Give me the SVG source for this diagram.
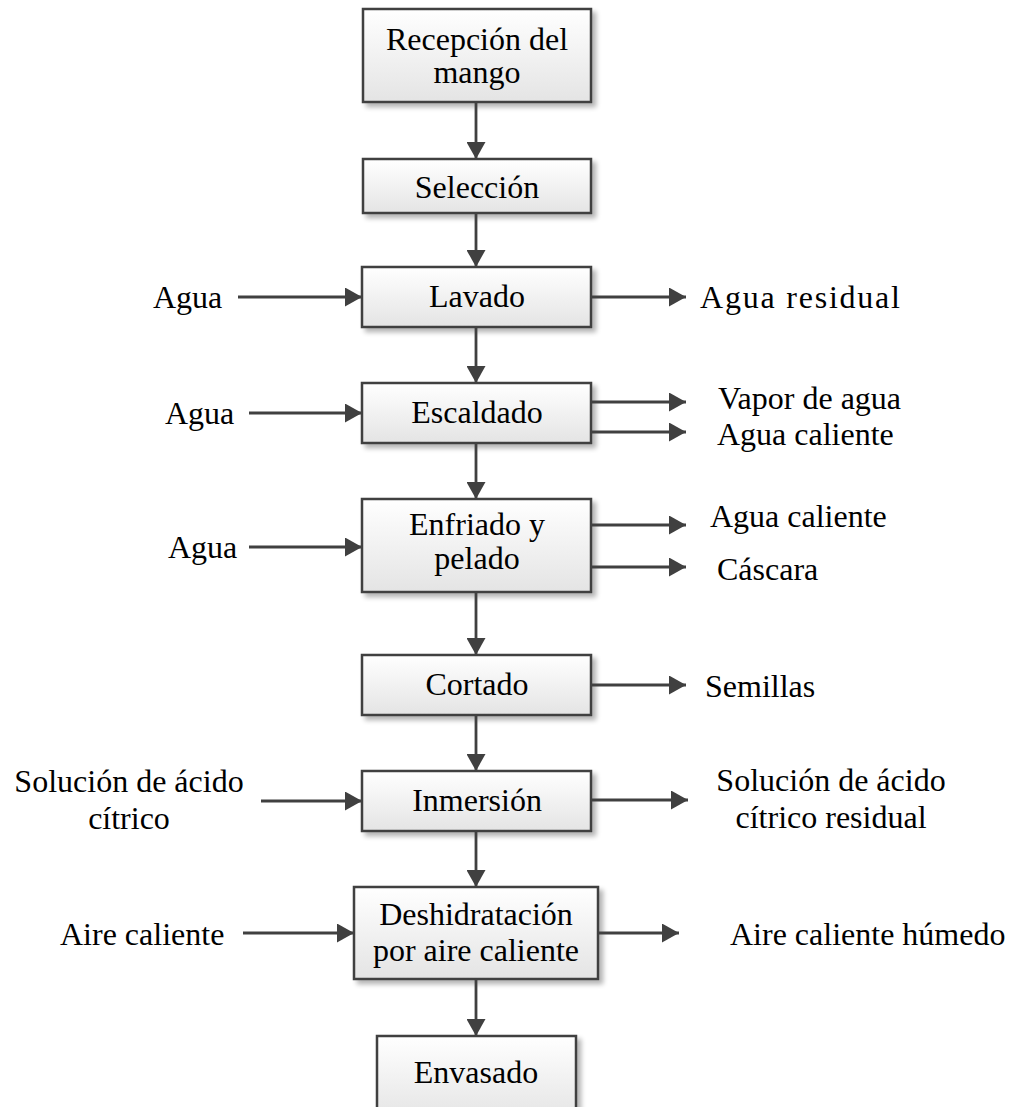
<svg xmlns="http://www.w3.org/2000/svg" width="1011" height="1107" viewBox="0 0 1011 1107">
  <style>
    .box { fill: url(#boxFill); stroke: #404040; stroke-width: 2.5; filter: url(#shadow); }
    .lbl { font-family: "Liberation Serif", "Times New Roman", serif; font-size: 32px; fill: #000; }
    .mid { text-anchor: middle; }
    .flow { stroke: #404040; stroke-width: 2.8; fill: none; marker-end: url(#head); }
  </style>
  <defs>
    <linearGradient id="boxFill" x1="0" y1="0" x2="0" y2="1">
      <stop offset="0" stop-color="#ffffff"/>
      <stop offset="1" stop-color="#e4e4e4"/>
    </linearGradient>
    <filter id="shadow" x="-10%" y="-10%" width="125%" height="135%">
      <feGaussianBlur in="SourceAlpha" stdDeviation="2.5"/>
      <feOffset dx="4" dy="4" result="blur"/>
      <feComponentTransfer><feFuncA type="linear" slope="0.3"/></feComponentTransfer>
      <feMerge><feMergeNode/><feMergeNode in="SourceGraphic"/></feMerge>
    </filter>
    <marker id="head" markerUnits="userSpaceOnUse" markerWidth="18" markerHeight="19" refX="17" refY="9.5" orient="auto">
      <path d="M0,0 L17,9.5 L0,19 z" fill="#404040"/>
    </marker>
  </defs>

  <!-- process steps -->
  <g id="recepcion">
    <rect class="box" x="363" y="9" width="228" height="93"/>
    <text class="lbl mid" x="477" y="50">Recepción del</text>
    <text class="lbl mid" x="477" y="83">mango</text>
  </g>
  <g id="seleccion">
    <rect class="box" x="363" y="159" width="228" height="54"/>
    <text class="lbl mid" x="477" y="198">Selección</text>
  </g>
  <g id="lavado">
    <rect class="box" x="362" y="267" width="229" height="60"/>
    <text class="lbl mid" x="477" y="307">Lavado</text>
  </g>
  <g id="escaldado">
    <rect class="box" x="362" y="383" width="229" height="60"/>
    <text class="lbl mid" x="477" y="423">Escaldado</text>
  </g>
  <g id="enfriado">
    <rect class="box" x="362" y="499" width="229" height="93"/>
    <text class="lbl mid" x="477" y="535">Enfriado y</text>
    <text class="lbl mid" x="477" y="569">pelado</text>
  </g>
  <g id="cortado">
    <rect class="box" x="362" y="655" width="229" height="60"/>
    <text class="lbl mid" x="477" y="695">Cortado</text>
  </g>
  <g id="inmersion">
    <rect class="box" x="362" y="771" width="229" height="60"/>
    <text class="lbl mid" x="477" y="811">Inmersión</text>
  </g>
  <g id="deshidratacion">
    <rect class="box" x="354" y="887" width="244" height="92"/>
    <text class="lbl mid" x="476" y="925">Deshidratación</text>
    <text class="lbl mid" x="476" y="961">por aire caliente</text>
  </g>
  <g id="envasado">
    <rect class="box" x="377" y="1036" width="199" height="85"/>
    <text class="lbl mid" x="476" y="1083">Envasado</text>
  </g>

  <!-- inputs and outputs -->
  <g id="inputs">
    <text class="lbl" x="153" y="308">Agua</text>
    <text class="lbl" x="165" y="424">Agua</text>
    <text class="lbl" x="168" y="558">Agua</text>
    <text class="lbl mid" x="129" y="792">Solución de ácido</text>
    <text class="lbl mid" x="129" y="829">cítrico</text>
    <text class="lbl" x="60" y="945">Aire caliente</text>
  </g>
  <g id="outputs">
    <text class="lbl" x="700" y="308" textLength="200" lengthAdjust="spacing">Agua residual</text>
    <text class="lbl" x="718" y="409">Vapor de agua</text>
    <text class="lbl" x="717" y="445">Agua caliente</text>
    <text class="lbl" x="710" y="527">Agua caliente</text>
    <text class="lbl" x="717" y="580">Cáscara</text>
    <text class="lbl" x="705" y="697">Semillas</text>
    <text class="lbl mid" x="831" y="791">Solución de ácido</text>
    <text class="lbl mid" x="831" y="828">cítrico residual</text>
    <text class="lbl" x="730" y="945">Aire caliente húmedo</text>
  </g>

  <!-- connectors -->
  <g id="connectors">
    <line class="flow" x1="476" y1="102" x2="476" y2="159"/>
    <line class="flow" x1="476" y1="213" x2="476" y2="267"/>
    <line class="flow" x1="476" y1="327" x2="476" y2="383"/>
    <line class="flow" x1="476" y1="443" x2="476" y2="499"/>
    <line class="flow" x1="476" y1="592" x2="476" y2="655"/>
    <line class="flow" x1="476" y1="715" x2="476" y2="771"/>
    <line class="flow" x1="476" y1="831" x2="476" y2="887"/>
    <line class="flow" x1="476" y1="979" x2="476" y2="1036"/>

    <line class="flow" x1="238" y1="297" x2="362" y2="297"/>
    <line class="flow" x1="249" y1="413" x2="362" y2="413"/>
    <line class="flow" x1="249" y1="547" x2="362" y2="547"/>
    <line class="flow" x1="261" y1="801" x2="362" y2="801"/>
    <line class="flow" x1="243" y1="933" x2="354" y2="933"/>

    <line class="flow" x1="591" y1="297" x2="686" y2="297"/>
    <line class="flow" x1="591" y1="402" x2="686" y2="402"/>
    <line class="flow" x1="591" y1="432" x2="686" y2="432"/>
    <line class="flow" x1="591" y1="525" x2="686" y2="525"/>
    <line class="flow" x1="591" y1="567" x2="686" y2="567"/>
    <line class="flow" x1="591" y1="685" x2="686" y2="685"/>
    <line class="flow" x1="591" y1="800" x2="688" y2="800"/>
    <line class="flow" x1="598" y1="933" x2="679" y2="933"/>
  </g>
</svg>
